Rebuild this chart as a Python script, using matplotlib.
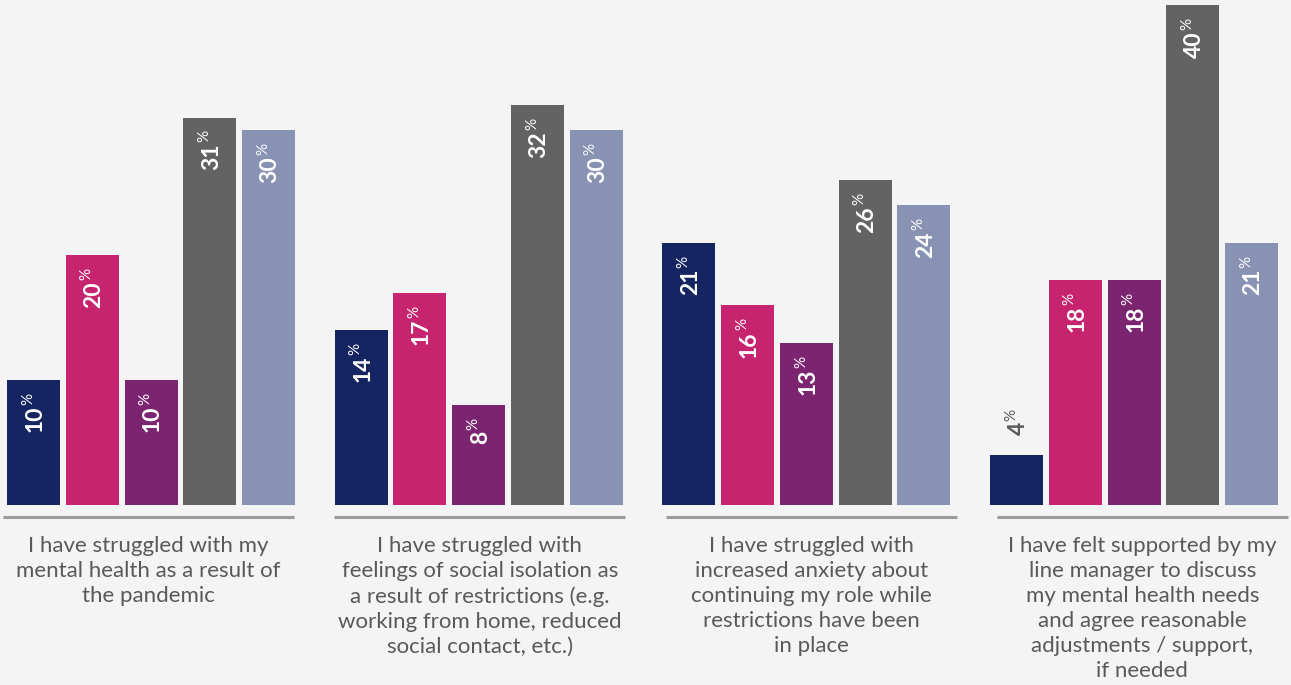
import matplotlib.pyplot as plt

# survey results, % agreeing, five respondent groups per statement
statements = [
    "I have struggled with my\nmental health as a result of\nthe pandemic",
    "I have struggled with\nfeelings of social isolation as\na result of restrictions (e.g.\nworking from home, reduced\nsocial contact, etc.)",
    "I have struggled with\nincreased anxiety about\ncontinuing my role while\nrestrictions have been\nin place",
    "I have felt supported by my\nline manager to discuss\nmy mental health needs\nand agree reasonable\nadjustments / support,\nif needed",
]
group_a = [10, 14, 21, 4]
group_b = [20, 17, 16, 18]
group_c = [10, 8, 13, 18]
group_d = [31, 32, 26, 40]
group_e = [30, 30, 24, 21]

series = [group_a, group_b, group_c, group_d, group_e]
colors = ["#142562", "#c6246e", "#7b2570", "#636363", "#8892b3"]

BG = "#f4f4f4"
TEXT = "#595959"
PX = 0.72  # points per pixel at dpi=100

fig = plt.figure(figsize=(12.91, 6.85), dpi=100, facecolor=BG)
ax = fig.add_axes([0, 180 / 685, 1, 500 / 685])
ax.set_facecolor(BG)
ax.set_xlim(0, 1291)
ax.set_ylim(0, 40)
ax.axis("off")

group_step = 327.7
bar_step = 58.75
bar_w = 53
first_center = 33.5
px_per_unit = 500 / 40

for g, statement in enumerate(statements):
    for i, vals in enumerate(series):
        v = vals[g]
        xc = first_center + g * group_step + i * bar_step
        ax.bar(xc, v, width=bar_w, color=colors[i], linewidth=0)
        if v >= 6:
            dy, col = -26, "white"
        else:
            dy, col = 33, TEXT
        ax.annotate(str(v), xy=(xc, v), xytext=(8 * PX, dy * PX),
                    textcoords="offset points", rotation=90,
                    rotation_mode="anchor", ha="right", va="baseline",
                    fontsize=16.5, fontweight="bold", color=col,
                    family="Lato")
        ax.annotate("%", xy=(xc, v), xytext=(-1.5 * PX, (dy + 1) * PX),
                    textcoords="offset points", rotation=90,
                    rotation_mode="anchor", ha="left", va="baseline",
                    fontsize=11, color=col, family="Lato")

    # separator under each group
    x0 = 3 + g * 331.3
    ax.plot([x0, x0 + 291], [-12 / px_per_unit] * 2, color="#9b9b9b",
            linewidth=2.2, clip_on=False, solid_capstyle="butt")
    ax.text(x0 + 145.5, -31 / px_per_unit, statement, ha="center", va="top",
            fontsize=16, color=TEXT, family="Lato", linespacing=1.31,
            clip_on=False)

fig.savefig("out.png", dpi=100, facecolor=BG)
